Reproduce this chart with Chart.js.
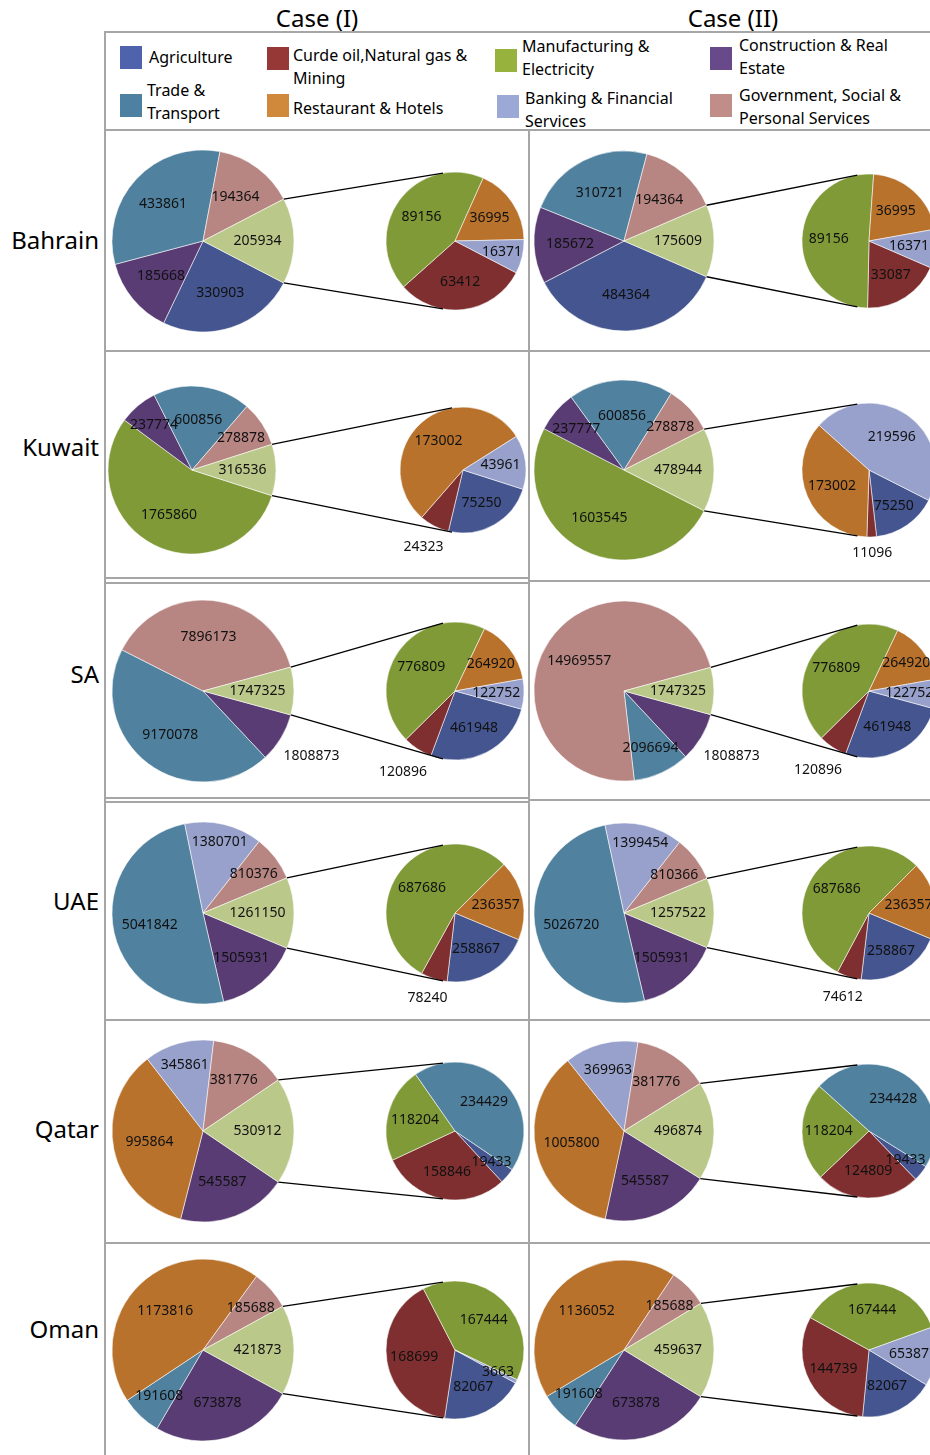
<!DOCTYPE html>
<html lang="en">
<head>
  <meta charset="UTF-8" />
  <title>Sector shares - pie of pie</title>
  <script src="https://cdn.jsdelivr.net/npm/chart.js"></script>
  <style>
    body {
      margin: 0;
      background: #fff;
      font-family: "Noto Sans", sans-serif;
      color: #000;
      overflow: hidden;
    }
    #page {
      position: relative;
      width: 930px;
      height: 1455px;
      overflow: hidden;
    }
    .title {
      position: absolute;
      top: 17px;
      font-size: 24px;
      transform: translate(-50%, -50%);
      white-space: nowrap;
    }
    .country {
      position: absolute;
      right: 831px;
      font-size: 24px;
      transform: translateY(-50%);
      white-space: nowrap;
    }
    .hline { position: absolute; height: 2px; background: #a6a6a6; }
    .vline { position: absolute; width: 2px; background: #a6a6a6; }
    .swatch { position: absolute; width: 22px; height: 23px; }
    .ltext {
      position: absolute;
      font-size: 16px;
      line-height: 23px;
    }
    canvas { position: absolute; }
  </style>
</head>
<body>
<div id="page"></div>

<script>
  // ---- data ----
  const CATEGORIES = [
    'Agriculture',
    'Curde oil,Natural gas & Mining',
    'Manufacturing & Electricity',
    'Construction & Real Estate',
    'Trade & Transport',
    'Restaurant & Hotels',
    'Banking & Financial Services',
    'Government, Social & Personal  Services'
  ];
  const COUNTRIES = ['Bahrain', 'Kuwait', 'SA', 'UAE', 'Qatar', 'Oman'];
  const CASES = ['Case (I)', 'Case (II)'];

  // values in CATEGORIES order
  const bahrain1 = [330903, 63412, 89156, 185668, 433861, 36995, 16371, 194364];
  const bahrain2 = [484364, 33087, 89156, 185672, 310721, 36995, 16371, 194364];
  const kuwait1  = [75250, 24323, 1765860, 237774, 600856, 173002, 43961, 278878];
  const kuwait2  = [75250, 11096, 1603545, 237777, 600856, 173002, 219596, 278878];
  const sa1      = [461948, 120896, 776809, 1808873, 9170078, 264920, 122752, 7896173];
  const sa2      = [461948, 120896, 776809, 1808873, 2096694, 264920, 122752, 14969557];
  const uae1     = [258867, 78240, 687686, 1505931, 5041842, 236357, 1380701, 810376];
  const uae2     = [258867, 74612, 687686, 1505931, 5026720, 236357, 1399454, 810366];
  const qatar1   = [19433, 158846, 118204, 545587, 234429, 995864, 345861, 381776];
  const qatar2   = [19433, 124809, 118204, 545587, 234428, 1005800, 369963, 381776];
  const oman1    = [82067, 168699, 167444, 673878, 191608, 1173816, 3663, 185688];
  const oman2    = [82067, 144739, 167444, 673878, 191608, 1136052, 65387, 185688];

  // categories moved into the second (small) pie
  const bahrainSecond = [1, 2, 5, 6];
  const kuwaitSecond  = [0, 1, 5, 6];
  const saSecond      = [0, 1, 2, 5, 6];
  const uaeSecond     = [0, 1, 2, 5];
  const qatarSecond   = [0, 1, 2, 4];
  const omanSecond    = [0, 1, 2, 6];

  const CHART_DATA = [
    [bahrain1, bahrain2, bahrainSecond],
    [kuwait1, kuwait2, kuwaitSecond],
    [sa1, sa2, saSecond],
    [uae1, uae2, uaeSecond],
    [qatar1, qatar2, qatarSecond],
    [oman1, oman2, omanSecond]
  ];

  // ---- styles / layout ----
  const PIE_COLORS = ['#44558f', '#7f2f2f', '#7f9a36', '#583c73', '#50819f', '#b8722c', '#97a1cb', '#b88682'];
  const OTHER_COLOR = '#bac98a';
  const LEGEND_COLORS = ['#4f63ad', '#953836', '#98b33d', '#684a8a', '#4e80a1', '#d0883b', '#9ca9d6', '#c08d89'];
  const LEGEND_POS = [
    { sx: 120, sy: 46, tx: 149, ty: 46, w: 100 },
    { sx: 267, sy: 47, tx: 293, ty: 44, w: 185 },
    { sx: 495, sy: 49, tx: 522, ty: 35, w: 160 },
    { sx: 710, sy: 47, tx: 739, ty: 34, w: 175 },
    { sx: 120, sy: 94, tx: 147, ty: 79, w: 100 },
    { sx: 267, sy: 94, tx: 293, ty: 97, w: 185 },
    { sx: 497, sy: 95, tx: 525, ty: 87, w: 160 },
    { sx: 710, sy: 94, tx: 739, ty: 84, w: 175 }
  ];
  const ROW_CY = [241, 470, 691, 913, 1131, 1350];
  const COUNTRY_CY = [239, 446, 673, 900, 1128, 1328];
  const CASE_X = [317, 733];
  const CELL = [
    { mainX: 203, mainR: 91, secX: 455, secR: 69 },
    { mainX: 624, mainR: 90, secX: 869, secR: 67 }
  ];
  const CELL_OVERRIDE = { 'Kuwait-0': { mainX: 192, mainR: 84, secX: 463, secR: 63 } };
  const FORCE_OUTSIDE = { 'SA': ['Construction & Real Estate'] };
  const PAD = 80;

  const page = document.getElementById('page');

  function addDiv(cls, css, text) {
    const d = document.createElement('div');
    d.className = cls;
    Object.assign(d.style, css);
    if (text) d.textContent = text;
    page.appendChild(d);
    return d;
  }

  // titles and row labels
  CASES.forEach((c, i) => addDiv('title', { left: CASE_X[i] + 'px' }, c));
  COUNTRIES.forEach((c, i) => addDiv('country', { top: COUNTRY_CY[i] + 'px' }, c));

  // frame lines
  addDiv('hline', { left: '104px', top: '31px', width: '830px' });
  addDiv('hline', { left: '104px', top: '129px', width: '830px' });
  addDiv('vline', { left: '104px', top: '31px', height: '1430px' });
  addDiv('vline', { left: '528px', top: '129px', height: '1330px' });
  addDiv('hline', { left: '104px', top: '350px', width: '830px' });
  addDiv('hline', { left: '104px', top: '577px', width: '426px' });
  addDiv('hline', { left: '104px', top: '582px', width: '426px' });
  addDiv('hline', { left: '528px', top: '580px', width: '410px' });
  addDiv('hline', { left: '104px', top: '797px', width: '426px' });
  addDiv('hline', { left: '104px', top: '801px', width: '426px' });
  addDiv('hline', { left: '528px', top: '799px', width: '410px' });
  addDiv('hline', { left: '104px', top: '1019px', width: '830px' });
  addDiv('hline', { left: '104px', top: '1242px', width: '830px' });

  // legend
  CATEGORIES.forEach((name, i) => {
    const p = LEGEND_POS[i];
    addDiv('swatch', { left: p.sx + 'px', top: p.sy + 'px', background: LEGEND_COLORS[i] });
    addDiv('ltext', { left: p.tx + 'px', top: p.ty + 'px', width: p.w + 'px' }, name);
  });

  // value labels: inside where they fit, pushed outside for thin slices at the bottom
  const sliceLabels = {
    id: 'sliceLabels',
    afterDatasetsDraw(chart, args, opts) {
      const ctx = chart.ctx;
      const meta = chart.getDatasetMeta(0);
      const values = chart.data.datasets[0].data;
      const forced = opts.outside || [];
      ctx.save();
      ctx.font = '14px "Noto Sans"';
      ctx.fillStyle = '#111';
      ctx.textAlign = 'center';
      ctx.textBaseline = 'middle';
      meta.data.forEach((arc, i) => {
        const { x, y, startAngle, endAngle, outerRadius } =
          arc.getProps(['x', 'y', 'startAngle', 'endAngle', 'outerRadius'], true);
        const text = String(values[i]);
        const w = ctx.measureText(text).width, h = 14;
        const mid = (startAngle + endAngle) / 2;
        const span = Math.min(endAngle - startAngle, Math.PI);
        const c = Math.cos(mid), s = Math.sin(mid);
        const across = w * Math.abs(s) + h * Math.abs(c);
        let r = null;
        for (let f = 0.6; f <= 0.801; f += 0.05) {
          if (2 * f * outerRadius * Math.sin(span / 2) >= across) { r = f * outerRadius; break; }
        }
        const thinBottom = r === null && s > 0.8 && span < 0.52;
        if (forced.includes(chart.data.labels[i]) || thinBottom) {
          r = outerRadius + 8 + (w * Math.abs(c) + h * Math.abs(s)) / 2;
        } else if (r === null) {
          r = 0.7 * outerRadius;
        }
        ctx.fillText(text, x + r * c, y + r * s);
      });
      ctx.restore();
    }
  };

  function makePie(cx, cy, R, labels, data, colors, rotation, outside) {
    const size = 2 * R + 2 * PAD;
    const cv = document.createElement('canvas');
    cv.width = size;
    cv.height = size;
    cv.style.left = (cx - size / 2) + 'px';
    cv.style.top = (cy - size / 2) + 'px';
    page.appendChild(cv);
    const chart = new Chart(cv.getContext('2d'), {
      type: 'pie',
      data: {
        labels: labels,
        datasets: [{
          data: data,
          backgroundColor: colors,
          borderColor: 'rgba(255,255,255,0.55)',
          borderWidth: 1
        }]
      },
      options: {
        responsive: false,
        animation: false,
        events: [],
        radius: R,
        rotation: rotation,
        layout: { padding: 0 },
        plugins: {
          legend: { display: false },
          tooltip: { enabled: false },
          sliceLabels: { outside: outside }
        }
      },
      plugins: [sliceLabels]
    });
    return { chart, left: cx - size / 2, top: cy - size / 2 };
  }

  const connectors = [];

  CHART_DATA.forEach((row, r) => {
    const second = row[2];
    [row[0], row[1]].forEach((values, k) => {
      const lay = CELL_OVERRIDE[COUNTRIES[r] + '-' + k] || CELL[k];
      const cy = ROW_CY[r];
      const mainIdx = values.map((v, i) => i).filter(i => !second.includes(i));
      const otherSum = second.reduce((a, i) => a + values[i], 0);
      const mainVals = mainIdx.map(i => values[i]).concat([otherSum]);
      const total = mainVals.reduce((a, b) => a + b, 0);
      // "other" slice is centred on 3 o'clock; the small pie starts at the same angle
      const rotation = 90 + 180 * otherSum / total;

      const main = makePie(lay.mainX, cy, lay.mainR,
        mainIdx.map(i => CATEGORIES[i]).concat(['Other']),
        mainVals,
        mainIdx.map(i => PIE_COLORS[i]).concat([OTHER_COLOR]),
        rotation, FORCE_OUTSIDE[COUNTRIES[r]] || []);

      makePie(lay.secX, cy, lay.secR,
        second.map(i => CATEGORIES[i]),
        second.map(i => values[i]),
        second.map(i => PIE_COLORS[i]),
        rotation, []);

      connectors.push({ main, secX: lay.secX, secY: cy, secR: lay.secR });
    });
  });

  // connector lines between the "other" slice and the small pie
  const ov = document.createElement('canvas');
  ov.width = 930;
  ov.height = 1455;
  ov.style.left = '0px';
  ov.style.top = '0px';
  page.appendChild(ov);
  const octx = ov.getContext('2d');
  octx.strokeStyle = '#000';
  octx.lineWidth = 1.3;
  const tilt = 10 * Math.PI / 180;
  connectors.forEach(cn => {
    const meta = cn.main.chart.getDatasetMeta(0);
    const arc = meta.data[meta.data.length - 1];
    const { x, y, startAngle, endAngle, outerRadius } =
      arc.getProps(['x', 'y', 'startAngle', 'endAngle', 'outerRadius'], true);
    const ox = cn.main.left + x, oy = cn.main.top + y;
    const ends = [
      [startAngle, -1],
      [endAngle, 1]
    ];
    ends.forEach(([a, dir]) => {
      octx.beginPath();
      octx.moveTo(ox + outerRadius * Math.cos(a), oy + outerRadius * Math.sin(a));
      octx.lineTo(cn.secX - cn.secR * Math.sin(tilt), cn.secY + dir * cn.secR * Math.cos(tilt));
      octx.stroke();
    });
  });
</script>
</body>
</html>
